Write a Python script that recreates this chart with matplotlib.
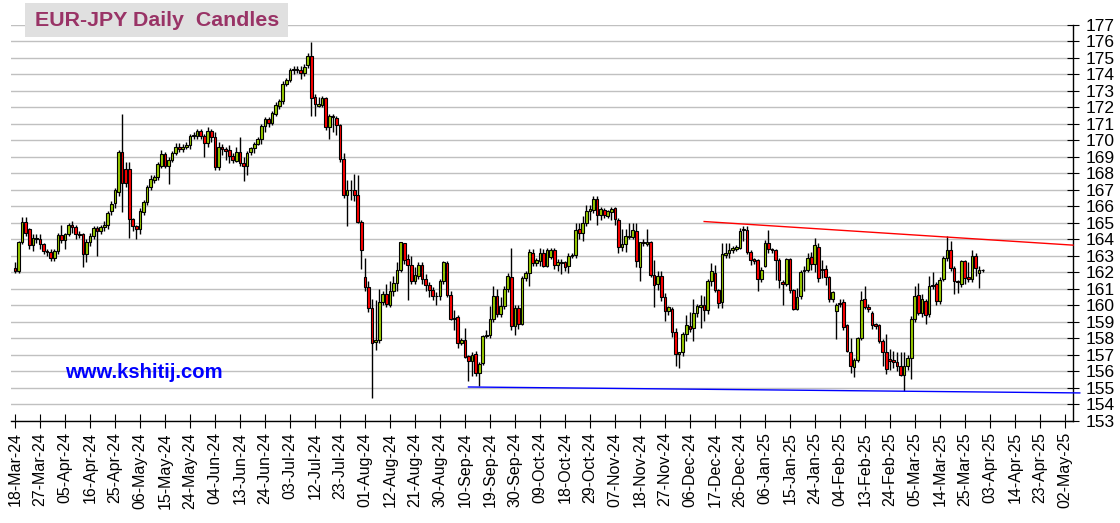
import numpy as np
import matplotlib.pyplot as plt
from matplotlib.patches import Rectangle

# daily OHLC, one entry per business day starting 18-Mar-24
opens = [162.26, 162.06, 163.81, 165.08, 164.62, 163.63, 164.08, 164.02, 163.71, 163.27,
         163.21, 162.87, 163.27, 164.28, 163.98, 164.32, 164.88, 164.72, 164.32, 164.32,
         163.11, 163.81, 164.22, 164.68, 164.52, 164.74, 164.88, 165.73, 166.19, 166.86,
         169.28, 168.25, 168.25, 165.25, 164.82, 164.62, 165.65, 166.25, 167.16, 167.60,
         167.77, 168.47, 169.18, 168.47, 168.81, 169.22, 169.62, 169.46, 169.62, 169.72,
         170.27, 170.27, 170.59, 170.27, 169.82, 170.59, 170.19, 168.41, 169.62, 169.46,
         169.39, 169.03, 168.73, 169.27, 168.63, 168.42, 169.27, 169.54, 169.80, 170.08,
         170.85, 171.29, 171.05, 171.62, 172.06, 172.38, 173.43, 173.64, 174.24, 174.28,
         174.24, 174.08, 174.53, 175.13, 172.63, 172.10, 172.16, 172.57, 170.81, 171.50,
         171.35, 170.95, 168.87, 166.68, 167.00, 166.96, 166.68, 165.08, 161.72, 161.11,
         159.84, 157.77, 157.93, 160.21, 160.69, 160.04, 160.85, 161.35, 162.16, 163.77,
         162.81, 162.46, 161.46, 161.80, 162.42, 161.60, 161.25, 160.95, 160.59, 160.55,
         161.46, 162.58, 160.66, 159.24, 159.28, 157.73, 157.89, 156.96, 156.62, 157.06,
         155.91, 156.52, 158.13, 158.23, 159.18, 160.56, 159.50, 159.99, 161.00, 161.73,
         158.74, 159.85, 158.90, 161.67, 161.97, 163.18, 162.54, 162.68, 163.18, 162.41,
         162.94, 163.34, 162.46, 162.55, 162.60, 162.36, 163.01, 163.07, 164.62, 164.38,
         164.98, 165.69, 165.79, 166.44, 165.49, 165.79, 165.43, 165.65, 165.89, 165.15,
         163.53, 163.73, 164.14, 164.14, 164.48, 162.32, 163.83, 163.73, 163.83, 161.82,
         161.31, 161.76, 160.51, 159.66, 159.80, 158.36, 157.06, 157.16, 158.26, 158.76,
         158.66, 159.56, 159.92, 160.00, 159.70, 161.46, 161.96, 160.96, 160.20, 163.06,
         163.16, 163.36, 163.40, 163.46, 164.56, 164.56, 163.26, 162.80, 162.76, 161.60,
         162.36, 163.76, 163.40, 163.36, 162.76, 161.40, 161.32, 162.80, 160.96, 159.80,
         160.56, 162.06, 162.16, 162.92, 162.50, 163.56, 162.12, 162.20, 161.72, 160.36,
         159.66, 160.16, 160.20, 158.80, 157.16, 156.26, 156.70, 158.00, 160.36, 159.92,
         159.56, 158.86, 158.80, 157.86, 157.16, 156.76, 156.70, 156.60, 156.32, 155.80,
         156.36, 156.80, 159.20, 160.66, 159.52, 160.26, 159.46, 161.20, 161.32, 160.26,
         161.60, 162.86, 163.36, 162.26, 161.50, 161.30, 162.66, 161.72, 161.60, 163.00,
         161.96, 162.12]
highs = [162.60, 163.90, 165.35, 165.35, 164.70, 164.30, 164.30, 164.30, 163.80, 163.40,
         163.40, 163.40, 164.40, 164.90, 164.40, 165.00, 165.10, 164.90, 164.50, 164.40,
         164.00, 164.40, 164.80, 164.80, 164.90, 165.10, 165.70, 166.30, 167.10, 169.42,
         171.60, 168.67, 168.67, 165.30, 164.90, 165.90, 166.40, 167.30, 167.90, 167.90,
         168.70, 169.40, 169.30, 169.00, 169.35, 169.82, 169.82, 169.80, 169.90, 170.40,
         170.50, 170.70, 170.70, 170.40, 170.80, 170.70, 170.50, 169.90, 169.80, 169.60,
         169.74, 169.20, 169.60, 170.20, 169.00, 169.33, 169.60, 169.90, 170.20, 171.00,
         171.40, 171.40, 171.80, 172.30, 172.50, 173.60, 173.80, 174.40, 174.50, 174.50,
         174.50, 174.60, 175.30, 175.94, 172.80, 172.60, 172.70, 172.60, 171.60, 171.60,
         171.50, 171.00, 169.20, 167.60, 167.60, 167.95, 167.90, 165.20, 162.87, 161.50,
         160.40, 160.30, 161.00, 160.90, 161.30, 161.50, 161.80, 162.60, 163.85, 163.80,
         163.10, 163.00, 162.30, 162.60, 162.60, 161.90, 161.40, 161.10, 160.80, 161.60,
         162.70, 162.70, 160.90, 159.75, 159.40, 158.00, 158.64, 157.00, 157.20, 157.22,
         156.60, 158.20, 158.50, 159.95, 161.16, 161.00, 160.50, 161.20, 161.97, 163.48,
         160.00, 160.00, 161.80, 162.10, 163.40, 163.40, 162.90, 163.48, 163.40, 163.48,
         163.50, 163.50, 162.80, 162.80, 162.70, 163.20, 163.20, 164.98, 165.00, 165.40,
         166.09, 166.09, 166.60, 166.60, 165.99, 165.90, 165.80, 165.99, 165.99, 165.30,
         164.62, 164.62, 164.98, 164.98, 164.98, 163.87, 164.00, 164.62, 163.90, 162.77,
         162.10, 162.10, 160.75, 159.96, 159.90, 158.66, 157.20, 158.36, 159.40, 159.60,
         160.36, 160.10, 160.66, 160.56, 161.60, 162.56, 162.46, 161.00, 163.76, 163.76,
         163.76, 163.60, 163.66, 164.66, 164.80, 164.80, 163.36, 162.90, 162.80, 162.30,
         163.96, 164.56, 163.50, 163.40, 162.90, 161.56, 162.90, 162.90, 161.00, 161.06,
         162.16, 162.36, 163.20, 163.26, 164.06, 163.76, 162.76, 162.46, 161.80, 160.90,
         160.16, 160.36, 160.40, 158.90, 158.00, 156.80, 158.10, 160.86, 161.20, 160.06,
         159.66, 158.96, 158.86, 157.96, 158.26, 157.36, 157.26, 157.20, 157.20, 157.20,
         157.00, 159.36, 161.16, 161.36, 160.70, 160.36, 161.80, 162.00, 161.40, 161.70,
         163.00, 164.20, 163.92, 162.40, 161.56, 162.76, 162.76, 162.60, 163.36, 163.16,
         162.36, 162.20]
lows = [161.95, 161.95, 163.70, 164.20, 163.40, 163.30, 163.80, 163.40, 163.10, 163.00,
        162.70, 162.70, 163.10, 163.80, 163.40, 164.20, 164.40, 164.00, 164.10, 162.30,
        162.60, 163.60, 164.00, 163.00, 164.30, 164.50, 164.60, 165.50, 165.90, 166.60,
        165.65, 167.20, 164.10, 164.50, 164.02, 164.30, 165.50, 166.10, 167.00, 167.40,
        167.60, 168.30, 168.30, 167.34, 168.70, 169.10, 169.30, 169.30, 169.50, 169.50,
        170.10, 170.10, 170.10, 169.00, 169.60, 169.90, 168.20, 168.20, 169.10, 168.80,
        168.60, 168.60, 168.67, 168.42, 167.52, 167.92, 169.10, 169.20, 169.70, 169.80,
        170.50, 170.80, 170.90, 171.50, 171.90, 172.20, 173.30, 173.50, 174.00, 174.10,
        173.70, 173.90, 174.40, 171.50, 171.45, 172.00, 172.00, 170.60, 170.10, 170.50,
        170.30, 168.70, 166.50, 164.80, 166.40, 166.30, 165.00, 162.20, 160.90, 159.60,
        154.40, 157.30, 157.70, 160.00, 159.90, 159.90, 160.60, 160.85, 162.00, 162.50,
        160.35, 161.30, 161.30, 161.60, 161.30, 160.90, 160.50, 160.30, 160.00, 160.30,
        161.30, 160.50, 159.10, 158.54, 157.42, 157.60, 156.80, 155.40, 155.70, 155.71,
        155.14, 156.40, 158.00, 158.00, 159.00, 159.30, 159.30, 159.80, 160.80, 158.50,
        158.20, 158.60, 158.80, 161.50, 161.16, 162.40, 162.40, 162.40, 162.30, 162.30,
        162.80, 162.20, 162.10, 161.90, 162.10, 161.96, 162.90, 162.90, 164.00, 163.90,
        164.80, 165.20, 165.60, 164.90, 165.20, 165.30, 165.30, 165.20, 164.90, 163.20,
        163.30, 163.21, 164.00, 164.00, 162.32, 161.46, 163.60, 163.60, 161.70, 159.90,
        160.95, 160.25, 159.04, 159.40, 158.06, 156.36, 156.20, 156.96, 157.86, 158.40,
        157.86, 159.30, 158.66, 159.06, 159.50, 161.20, 160.80, 159.86, 159.86, 162.90,
        162.86, 163.20, 163.30, 163.40, 163.90, 163.10, 162.46, 162.50, 160.86, 161.40,
        162.30, 163.20, 163.20, 161.56, 161.06, 160.00, 161.20, 160.76, 159.70, 159.70,
        160.40, 160.90, 162.00, 162.16, 162.00, 161.40, 161.66, 161.26, 160.20, 160.20,
        157.96, 159.90, 158.50, 157.20, 155.92, 155.66, 156.60, 157.90, 159.76, 159.60,
        158.60, 158.60, 157.70, 156.36, 155.86, 156.06, 156.20, 156.00, 155.70, 154.80,
        156.10, 155.56, 159.00, 159.40, 159.30, 158.86, 159.30, 161.00, 160.00, 160.10,
        161.50, 162.70, 162.10, 160.72, 160.76, 161.10, 161.30, 161.40, 161.40, 161.80,
        161.06, 162.00]
closes = [162.06, 163.81, 165.08, 164.38, 163.63, 164.08, 164.02, 163.71, 163.27, 163.21,
          162.87, 163.27, 164.28, 163.98, 164.32, 164.84, 164.72, 164.32, 164.28, 163.11,
          163.81, 164.22, 164.68, 164.52, 164.74, 164.88, 165.59, 166.13, 167.00, 169.28,
          167.40, 167.40, 165.25, 164.78, 164.62, 165.69, 166.25, 167.16, 167.65, 167.77,
          168.57, 169.18, 168.47, 168.81, 169.22, 169.62, 169.46, 169.62, 169.72, 170.27,
          170.33, 170.59, 170.27, 169.82, 170.59, 170.19, 168.41, 169.62, 169.46, 169.36,
          169.03, 168.83, 169.27, 168.63, 168.42, 169.23, 169.54, 169.80, 170.08, 170.89,
          171.29, 171.05, 171.66, 172.16, 172.38, 173.43, 173.64, 174.28, 174.32, 174.32,
          174.08, 174.44, 175.13, 172.57, 172.22, 172.22, 172.57, 170.81, 171.45, 171.41,
          170.95, 168.87, 166.71, 166.96, 166.96, 166.68, 165.08, 163.33, 161.11, 159.84,
          157.73, 157.93, 160.21, 160.69, 160.10, 160.85, 161.35, 162.16, 163.81, 162.77,
          162.46, 161.46, 161.86, 162.42, 161.60, 161.25, 160.95, 160.59, 160.55, 161.46,
          162.63, 160.66, 159.18, 159.18, 157.73, 157.89, 156.88, 156.62, 157.02, 155.91,
          156.47, 158.13, 158.23, 159.18, 160.56, 159.50, 159.99, 161.00, 161.77, 158.74,
          159.85, 158.90, 161.67, 161.97, 163.22, 162.54, 162.72, 163.18, 162.41, 163.38,
          163.38, 162.47, 162.60, 162.60, 162.32, 162.97, 163.07, 164.58, 164.38, 164.98,
          165.69, 165.83, 166.44, 165.49, 165.83, 165.49, 165.69, 165.83, 165.23, 163.53,
          163.73, 164.18, 164.18, 164.54, 162.67, 163.83, 163.77, 163.83, 161.82, 161.25,
          161.76, 160.51, 159.68, 159.92, 158.36, 157.06, 157.16, 158.26, 158.84, 158.60,
          159.56, 159.96, 160.00, 159.72, 161.50, 162.06, 160.96, 160.16, 163.12, 163.16,
          163.36, 163.46, 163.56, 164.52, 164.60, 163.26, 162.76, 162.66, 161.60, 162.16,
          163.76, 163.40, 163.36, 162.76, 161.56, 161.32, 162.80, 160.92, 159.80, 160.52,
          162.00, 162.16, 162.86, 162.50, 163.66, 161.66, 162.20, 161.72, 160.36, 160.80,
          160.00, 160.10, 158.72, 157.26, 156.36, 156.70, 158.00, 160.32, 159.92, 159.80,
          158.80, 158.76, 157.86, 157.20, 156.16, 156.66, 156.56, 156.32, 155.80, 156.36,
          156.80, 159.16, 160.60, 159.52, 160.36, 159.40, 161.20, 161.26, 160.26, 161.56,
          162.86, 163.36, 162.26, 161.46, 161.42, 162.66, 161.66, 161.60, 163.00, 162.26,
          162.12, 162.16]

tick_labels = ['18-Mar-24', '27-Mar-24', '05-Apr-24', '16-Apr-24', '25-Apr-24', '06-May-24',
               '15-May-24', '24-May-24', '04-Jun-24', '13-Jun-24', '24-Jun-24', '03-Jul-24',
               '12-Jul-24', '23-Jul-24', '01-Aug-24', '12-Aug-24', '21-Aug-24', '30-Aug-24',
               '10-Sep-24', '19-Sep-24', '30-Sep-24', '09-Oct-24', '18-Oct-24', '29-Oct-24',
               '07-Nov-24', '18-Nov-24', '27-Nov-24', '06-Dec-24', '17-Dec-24', '26-Dec-24',
               '06-Jan-25', '15-Jan-25', '24-Jan-25', '04-Feb-25', '13-Feb-25', '24-Feb-25',
               '05-Mar-25', '14-Mar-25', '25-Mar-25', '03-Apr-25', '14-Apr-25', '23-Apr-25',
               '02-May-25']
price_ticks = list(range(153, 178))

# trend lines (bar index, price)
resistance_x = [193, 296.3]
resistance_y = [165.08, 163.65]
support_x = [127, 298.2]
support_y = [155.06, 154.70]

plt.rcParams['font.family'] = ['Liberation Sans', 'DejaVu Sans']

o = np.array(opens)
h = np.array(highs)
l = np.array(lows)
c = np.array(closes)
idx = np.arange(len(o))
h = np.maximum(h, np.maximum(o, c))
l = np.minimum(l, np.minimum(o, c))

W, H = 1120, 523
fig = plt.figure(figsize=(W / 100, H / 100), dpi=100)
ax = fig.add_axes([11 / W, 1 - 421 / H, (1073 - 11) / W, (421 - 24.7) / H])

up = c >= o
body_bottom = np.minimum(o, c)
body_h = np.maximum(np.abs(c - o), 0.04)

ax.vlines(idx, l, h, color='black', lw=1, zorder=2)
ax.bar(idx[up], body_h[up], bottom=body_bottom[up], width=0.75,
       color='#99CC00', edgecolor='black', linewidth=0.8, zorder=3)
ax.bar(idx[~up], body_h[~up], bottom=body_bottom[~up], width=0.75,
       color='#FF0000', edgecolor='black', linewidth=0.8, zorder=3)

ax.plot(resistance_x, resistance_y, color='#FF0000', lw=1, clip_on=False, zorder=4)
ax.plot(support_x, support_y, color='#0000FF', lw=1, clip_on=False, zorder=4)

ax.set_xlim(-1.12, 296.3)
ax.set_ylim(153, 177)

ax.set_xticks(np.arange(len(tick_labels)) * 7)
ax.set_xticklabels(tick_labels, rotation=90)
ax.set_yticks(price_ticks)
ax.yaxis.tick_right()
ax.tick_params(axis='y', direction='inout', length=8, labelsize=12.5, pad=5)
ax.tick_params(axis='x', direction='inout', length=10, labelsize=11.5, pad=3)

ax.yaxis.grid(True, color='#C0C0C0', lw=1)
ax.set_axisbelow(True)
for side in ['left', 'top']:
    ax.spines[side].set_visible(False)
for side in ['right', 'bottom']:
    ax.spines[side].set_color('black')
    ax.spines[side].set_linewidth(1)

# title box
fig.patches.append(Rectangle((25 / W, 1 - 37 / H), (288 - 25) / W, 34 / H,
                             transform=fig.transFigure, facecolor='#E0E0E0',
                             edgecolor='none', zorder=5))
fig.text(35 / W, 1 - 20 / H, 'EUR-JPY Daily  Candles', fontsize=15.4, fontweight='bold',
         color='#993366', va='center', ha='left', zorder=6)

fig.text(65 / W, 1 - 373 / H, 'www.kshitij.com', fontsize=14.6, fontweight='bold',
         color='#0000FF', va='center', ha='left')

fig.savefig('out.png', dpi=100)
